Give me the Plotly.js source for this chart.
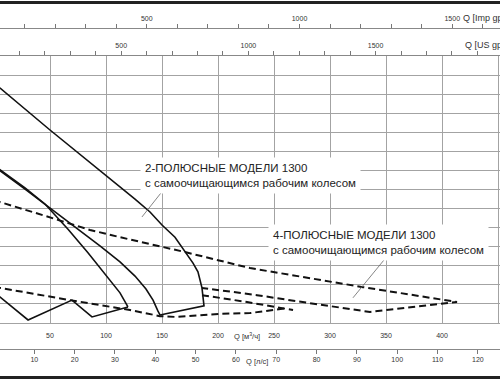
<!DOCTYPE html>
<html>
<head>
<meta charset="utf-8">
<script src="https://cdn.plot.ly/plotly-3.0.1.min.js"></script>
<style>html,body{margin:0;padding:0;background:#fff;}#chart{width:500px;height:380px;}</style>
</head>
<body>
<div id="chart"></div>
<script>
// Q in m3/h, H in m
const qA = [0, 5.4, 50.0, 85.7, 121.4, 125.9, 139.3, 150.0, 161.6, 170.5, 177.7, 182.1, 185.7, 187.5, 148.2];
const hA = [63.0, 61.6, 50.6, 42.2, 33.6, 32.5, 29.1, 25.7, 22.5, 18.6, 15.7, 13.4, 9.2, 4.5, 2.1];
const qB = [0, 5.4, 27.7, 50.0, 75.0, 94.6, 112.5, 125.9, 135.7, 142.0, 146.4, 148.2];
const hB = [41.0, 39.9, 35.1, 30.2, 24.6, 20.2, 16.0, 12.3, 8.9, 6.0, 3.1, 2.1];
const qC = [0, 5.4, 27.7, 45.5, 66.1, 83.9, 103.6, 112.5, 119.6];
const hC = [41.3, 40.1, 35.4, 31.2, 24.6, 18.4, 11.3, 7.9, 4.2];
const qD = [0, 5.4, 30.4, 69.6, 87.5, 119.6];
const hD = [8.1, 6.8, 0.8, 6.0, 1.6, 4.2];
const qE = [0, 5.4, 45.5, 85.7, 112.5, 170.5, 228.6, 329.5, 413.4, 335.7, 282.1, 234.8, 185.7];
const hE = [32.3, 31.7, 28.1, 24.4, 22.5, 18.6, 14.4, 9.4, 5.5, 2.9, 5.2, 7.3, 9.2];
const qG = [185.7, 225.9, 267.0];
const hG = [7.3, 5.5, 3.4];
const qI = [0, 5.4, 67.9, 121.4, 148.2, 161.6, 201.8, 228.6, 261.6];
const hI = [9.4, 9.2, 6.0, 3.4, 1.8, 1.6, 2.4, 2.6, 3.9];

const m3hTicks = [50, 100, 150, 200, 250, 300, 350, 400, 450];
const lsTicks = [10, 20, 30, 40, 50, 60, 70, 80, 90, 100, 110, 120];
const gpmTicks = [500, 1000, 1500];

const label2p = ['2-ПОЛЮСНЫЕ МОДЕЛИ 1300', 'с самоочищающимся рабочим колесом'];
const label4p = ['4-ПОЛЮСНЫЕ МОДЕЛИ 1300', 'с самоочищающимся рабочим колесом'];

// unit conversions
const M3H_PER_LS = 3.6, M3H_PER_USGPM = 0.2271247, M3H_PER_IMPGPM = 0.2727654;
const xr = [5.357, 451.79];

const solid = {color: '#111', width: 1.6};
const dashed = {color: '#111', width: 2, dash: '7px,4px'};
function tr(x, y, line) { return {x: x, y: y, type: 'scatter', mode: 'lines', line: line, hoverinfo: 'skip'}; }

const data = [
  tr(qE, hE, dashed), tr(qG, hG, dashed), tr(qI, hI, dashed),
  tr(qA, hA, solid), tr(qB, hB, solid), tr(qC, hC, solid), tr(qD, hD, solid),
  {x: [], y: [], xaxis: 'x2', type: 'scatter'},
  {x: [], y: [], xaxis: 'x3', type: 'scatter'},
  {x: [], y: [], xaxis: 'x4', type: 'scatter'}
];

const grid = '#a3a3a3';
const tf = {family: 'Liberation Sans, Arial, sans-serif', size: 7, color: '#333'};
const topAxis = (range, pos) => ({
  overlaying: 'x', side: 'top', range: range, tickvals: gpmTicks,
  ticks: 'outside', ticklen: 4, tickcolor: '#777', tickwidth: 1,
  minor: {dtick: 100, tick0: 0, ticks: 'outside', ticklen: 4, tickcolor: '#777', tickwidth: 1, showgrid: false},
  showline: true, linecolor: '#888', linewidth: 1, showgrid: false, zeroline: false,
  tickfont: tf, anchor: pos === null ? 'y' : 'free', position: pos === null ? undefined : pos
});

const layout = {
  width: 500, height: 380, margin: {l: 0, r: 0, t: 0, b: 0},
  paper_bgcolor: '#fff', plot_bgcolor: '#fff', showlegend: false,
  font: {family: 'Liberation Sans, Arial, sans-serif'},
  xaxis: {domain: [0, 1], range: xr, tickvals: m3hTicks, ticks: 'outside', ticklen: 6,
    tickcolor: 'rgba(0,0,0,0)', showgrid: true, gridcolor: grid, gridwidth: 1, zeroline: false,
    showline: true, linecolor: grid, tickfont: tf},
  yaxis: {domain: [0.15, 0.8526], range: [0, 70], dtick: 5, showticklabels: false, ticks: '',
    showgrid: true, gridcolor: grid, gridwidth: 1, zeroline: false, showline: false},
  xaxis2: topAxis(xr.map(v => v / M3H_PER_USGPM), null),
  xaxis3: topAxis(xr.map(v => v / M3H_PER_IMPGPM), 0.926),
  xaxis4: {overlaying: 'x', anchor: 'free', position: 0.0816, side: 'bottom',
    range: xr.map(v => v / M3H_PER_LS), tickvals: lsTicks, ticks: 'outside', ticklen: 4,
    tickcolor: '#777', showline: true, linecolor: '#888', showgrid: false, zeroline: false, tickfont: tf},
  shapes: [
    {type: 'line', xref: 'paper', yref: 'paper', x0: 0, x1: 1, y0: 0.9934, y1: 0.9934, line: {color: '#222', width: 3}},
    {type: 'line', xref: 'paper', yref: 'paper', x0: 0, x1: 1, y0: 0.0066, y1: 0.0066, line: {color: '#222', width: 3}},
    {type: 'line', xref: 'x', yref: 'y', x0: 132.1, y0: 27.8, x1: 151.8, y1: 35.1, line: {color: '#666', width: 0.8}},
    {type: 'line', xref: 'x', yref: 'y', x0: 320.5, y0: 6.6, x1: 351.8, y1: 17.8, line: {color: '#666', width: 0.8}}
  ],
  annotations: [
    {xref: 'paper', yref: 'paper', x: 0.28, y: 0.587, xanchor: 'left', yanchor: 'top', align: 'left',
      text: label2p.join('<br>'), showarrow: false, bgcolor: '#fff', borderpad: 4,
      font: {size: 11.5, color: '#222'}},
    {xref: 'paper', yref: 'paper', x: 0.536, y: 0.4105, xanchor: 'left', yanchor: 'top', align: 'left',
      text: label4p.join('<br>'), showarrow: false, bgcolor: '#fff', borderpad: 4,
      font: {size: 11.5, color: '#222'}},
    {xref: 'paper', yref: 'paper', x: 0.464, y: 0.1158, xanchor: 'left', yanchor: 'middle',
      text: 'Q [м<sup>3</sup>/ч]', showarrow: false, font: {size: 7.5, color: '#333'}},
    {xref: 'paper', yref: 'paper', x: 0.488, y: 0.0474, xanchor: 'left', yanchor: 'middle',
      text: 'Q [л/с]', showarrow: false, font: {size: 7.5, color: '#333'}},
    {xref: 'paper', yref: 'paper', x: 0.922, y: 0.9526, xanchor: 'left', yanchor: 'middle',
      text: 'Q [Imp gpm]', showarrow: false, font: {size: 9, color: '#333'}},
    {xref: 'paper', yref: 'paper', x: 0.926, y: 0.8816, xanchor: 'left', yanchor: 'middle',
      text: 'Q [US gpm]', showarrow: false, font: {size: 9, color: '#333'}}
  ]
};

Plotly.newPlot('chart', data, layout, {staticPlot: true, displayModeBar: false});
</script>
</body>
</html>
